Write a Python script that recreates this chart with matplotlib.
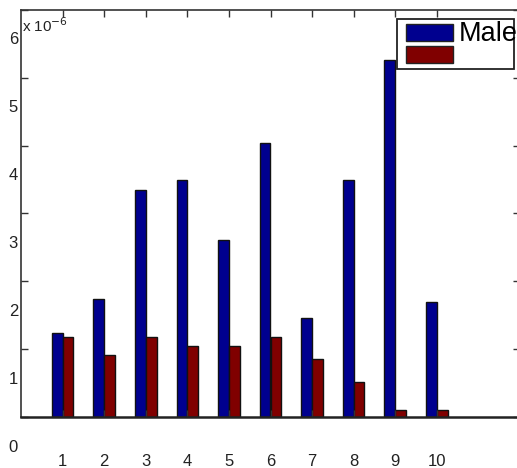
import matplotlib
matplotlib.use('Agg')
import matplotlib.pyplot as plt
from matplotlib.patches import Rectangle
from matplotlib.transforms import ScaledTranslation

plt.rcParams['font.family'] = ['Liberation Sans', 'DejaVu Sans']

# values in units of 1e-6
groups = [1, 2, 3, 4, 5, 6, 7, 8, 9, 10]
male = [1.24, 1.74, 3.35, 3.49, 2.61, 4.04, 1.46, 3.49, 5.26, 1.70]
second = [1.18, 0.91, 1.18, 1.05, 1.05, 1.18, 0.86, 0.51, 0.10, 0.10]
yticks = [0, 1, 2, 3, 4, 5, 6]
legend_labels = ['Male', '']

W, H = 517, 468
fig = plt.figure(figsize=(W / 100, H / 100), dpi=100)
ax = fig.add_axes([21 / W, 51 / H, 499 / W, 407 / H])

bw = 0.26
blue = '#00008f'
dark_red = '#800000'
ax.bar([g - bw / 2 for g in groups], male, width=bw, color=blue,
       edgecolor='#111111', linewidth=1.0)
ax.bar([g + bw / 2 for g in groups], second, width=bw, color=dark_red,
       edgecolor='#111111', linewidth=1.0)

ax.set_xlim(0, 12)
ax.set_ylim(0, 6)
ax.set_xticks(groups)
ax.set_yticks(yticks)
ax.set_xticklabels([])
ax.set_yticklabels([])
ax.tick_params(direction='in', length=5, width=1, color='#333333',
               top=True, right=True)
for side in ['left', 'top', 'right']:
    ax.spines[side].set_linewidth(1.2)
    ax.spines[side].set_color('#333333')
ax.spines['bottom'].set_linewidth(1.8)
ax.spines['bottom'].set_color('#222222')

# tick labels sit ~30 px below their ticks
shift = ScaledTranslation(0, -0.30, fig.dpi_scale_trans)
ytrans = ax.get_yaxis_transform() + ScaledTranslation(-0.03, 0, fig.dpi_scale_trans) + shift
for v in yticks:
    ax.text(0, v, str(v), transform=ytrans, ha='right', va='center',
            fontsize=12, color='#222222', clip_on=False)
xtrans = ax.get_xaxis_transform() + ScaledTranslation(0, -0.44, fig.dpi_scale_trans)
for g in groups:
    ax.text(g, 0, str(g), transform=xtrans, ha='center', va='center',
            fontsize=12, color='#222222', clip_on=False)

ax.text(1 / W, 1 - (32 - 10) / 407, r'x 10$^{-6}$', transform=ax.transAxes,
        fontsize=11, color='#222222', va='baseline', ha='left')


def px(x0, y0, x1, y1):
    return (x0 / W, 1 - y1 / H, (x1 - x0) / W, (y1 - y0) / H)


# legend box
x, y, w, h = px(397, 19, 514, 69)
fig.patches.append(Rectangle((x, y), w, h, transform=fig.transFigure,
                             facecolor='white', edgecolor='#222222', linewidth=1.3))
for (y0, y1), c in zip([(24, 41), (46, 63)], [blue, dark_red]):
    x, y, w, h = px(406, y0, 453, y1)
    fig.patches.append(Rectangle((x, y), w, h, transform=fig.transFigure,
                                 facecolor=c, edgecolor='#222222', linewidth=1.0))
for lab, yc in zip(legend_labels, [34, 55]):
    fig.text(459 / W, 1 - yc / H, lab, fontsize=19.5, va='center', ha='left',
             color='black')

fig.savefig('out.png', dpi=100)
